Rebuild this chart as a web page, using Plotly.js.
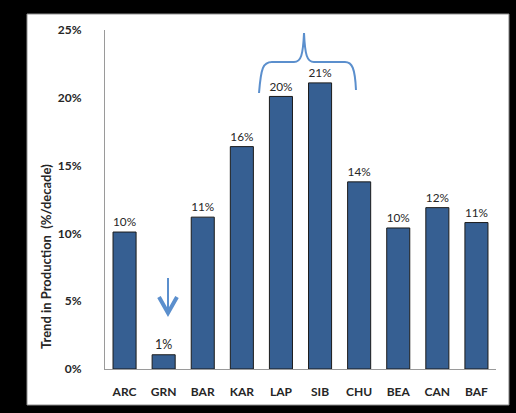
<!DOCTYPE html>
<html>
<head>
<meta charset="utf-8">
<script src="https://cdn.plot.ly/plotly-3.0.1.min.js"></script>
<style>html,body{margin:0;padding:0;background:#000;}#chart{width:516px;height:413px;}</style>
</head>
<body>
<div id="chart"></div>
<script>
const regions = ["ARC","GRN","BAR","KAR","LAP","SIB","CHU","BEA","CAN","BAF"];
const trendPct = [10.1, 1.05, 11.2, 16.4, 20.1, 21.1, 13.8, 10.4, 11.9, 10.8];
const yTicks = [0, 5, 10, 15, 20, 25];
const yTitle = "Trend in Production  (%/decade)";

const W = 516, H = 413;
const M = {l: 105, r: 20, t: 30, b: 44};
const pw = W - M.l - M.r, ph = H - M.t - M.b;
function px(x){ return ((x - M.l) / pw).toFixed(4); }
function py(y){ return ((H - M.b - y) / ph).toFixed(4); }
function P(x, y){ return px(x) + "," + py(y); }

const font = "Lato, 'Open Sans', sans-serif";
const accent = "#5b8fcd";

const trace = {
  type: "bar",
  x: regions,
  y: trendPct,
  marker: {color: "#365f92", line: {color: "#1b1b1b", width: 1}},
  texttemplate: "%{y:.0f}%",
  textposition: "outside",
  textfont: {family: font, size: 12.5, color: "#262626"},
  cliponaxis: false,
  hoverinfo: "skip"
};

const bracket = "M" + P(259, 93) + " C" + P(261, 68) + " " + P(263, 62) + " " + P(272, 62) +
  " L" + P(294, 62) + " C" + P(301, 62) + " " + P(303, 55) + " " + P(304, 33) +
  " C" + P(305, 55) + " " + P(307, 62) + " " + P(314, 62) +
  " L" + P(345, 62) + " C" + P(352, 62) + " " + P(355, 68) + " " + P(356, 90);

const layout = {
  width: W, height: H,
  margin: M,
  paper_bgcolor: "#000000",
  plot_bgcolor: "#ffffff",
  showlegend: false,
  bargap: 0.41,
  font: {family: font, size: 12, color: "#262626"},
  xaxis: {
    type: "category",
    showline: true, linecolor: "#9a9a9a", linewidth: 1,
    ticks: "", showgrid: false, zeroline: false,
    tickfont: {family: font, size: 12, color: "#262626", weight: "bold"},
    ticklabelstandoff: 12
  },
  yaxis: {
    range: [0, 25], tickvals: yTicks, ticktext: yTicks.map(v => v + "%"),
    showline: true, linecolor: "#9a9a9a", linewidth: 1,
    ticks: "", showgrid: false, zeroline: false,
    tickfont: {family: font, size: 12, color: "#262626", weight: "bold"},
    ticklabelstandoff: 20
  },
  shapes: [
    {type: "rect", xref: "paper", yref: "paper", layer: "below",
     x0: px(27), x1: px(509), y0: py(405), y1: py(14),
     fillcolor: "#ffffff", line: {color: "#8c8c8c", width: 1}},
    {type: "path", xref: "paper", yref: "paper", path: bracket,
     line: {color: accent, width: 2}},
    {type: "line", xref: "paper", yref: "paper",
     x0: px(168), x1: px(168), y0: py(278), y1: py(312),
     line: {color: accent, width: 2}},
    {type: "path", xref: "paper", yref: "paper",
     path: "M" + P(159, 297) + " L" + P(168, 313) + " L" + P(177, 297),
     line: {color: accent, width: 4}}
  ],
  annotations: [
    {text: yTitle, xref: "paper", yref: "paper", x: px(46), y: py(256),
     showarrow: false, textangle: -90, xanchor: "center", yanchor: "middle",
     font: {family: font, size: 13, color: "#262626", weight: "bold"}}
  ]
};

Plotly.newPlot("chart", [trace], layout, {displayModeBar: false, staticPlot: true});
</script>
</body>
</html>
